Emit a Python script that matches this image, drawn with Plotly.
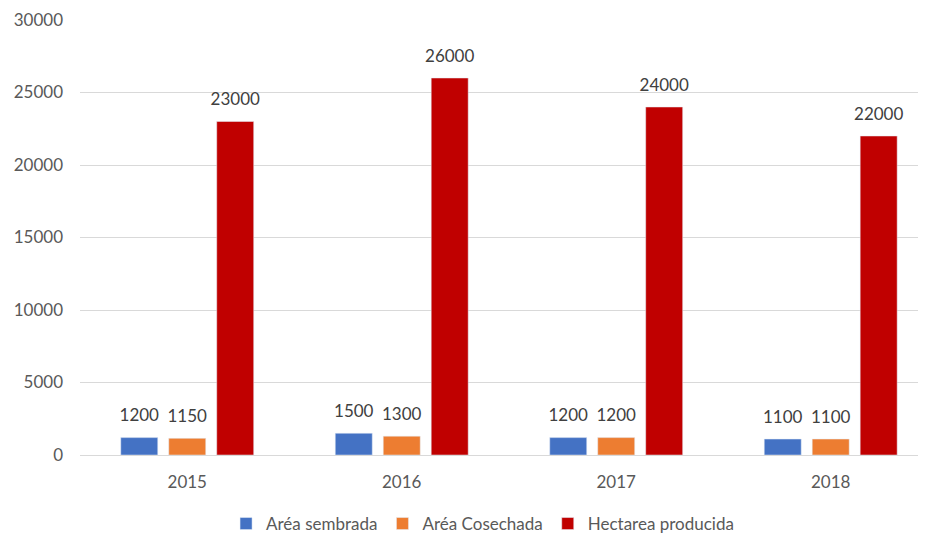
import plotly.graph_objects as go

years = ["2015", "2016", "2017", "2018"]
area_sembrada = [1200, 1500, 1200, 1100]
area_cosechada = [1150, 1300, 1200, 1100]
hectarea_producida = [23000, 26000, 24000, 22000]

series = [
    ("Aréa sembrada", area_sembrada, "#4472C4"),
    ("Aréa Cosechada", area_cosechada, "#ED7D31"),
    ("Hectarea producida", hectarea_producida, "#C00000"),
]

fig = go.Figure()
for name, vals, color in series:
    fig.add_trace(go.Bar(
        x=years, y=vals, name=name, marker_color=color,
    ))
for name, vals, color in series:
    fig.add_trace(go.Scatter(
        x=years, y=vals, mode="markers+text", name=name + " labels",
        text=[str(v) for v in vals], textposition="top center",
        marker=dict(size=18, color="rgba(0,0,0,0)"),
        textfont=dict(size=17, color="#404040"), cliponaxis=False,
        showlegend=False, hoverinfo="skip",
    ))

fig.update_layout(
    width=928, height=535,
    margin=dict(l=80, r=10, t=20, b=80, autoexpand=False),
    plot_bgcolor="white", paper_bgcolor="white",
    font=dict(family="Lato, Open Sans, sans-serif", size=17, color="#595959"),
    barmode="group", bargap=0.329, bargroupgap=0.229,
    scattermode="group", scattergap=0.329,
    legend=dict(orientation="h", x=0.52, xanchor="center", xref="container",
                y=0.0206, yanchor="middle", yref="container",
                font=dict(size=17, color="#595959"), itemwidth=30),
    showlegend=True,
)
fig.update_yaxes(range=[0, 30000], dtick=5000, tickformat="d", showgrid=True,
                 gridcolor="#d9d9d9", zeroline=False, ticks="", automargin=False,
                 tickfont=dict(size=17), ticklabelstandoff=16)
fig.update_xaxes(range=[-0.5, 3.407], showline=True, linecolor="#d9d9d9", linewidth=1,
                 ticks="", automargin=False, tickfont=dict(size=17), ticklabelstandoff=12)

fig.write_html("out.html", config={"displayModeBar": False},
               post_script="document.body.style.margin='0';")
